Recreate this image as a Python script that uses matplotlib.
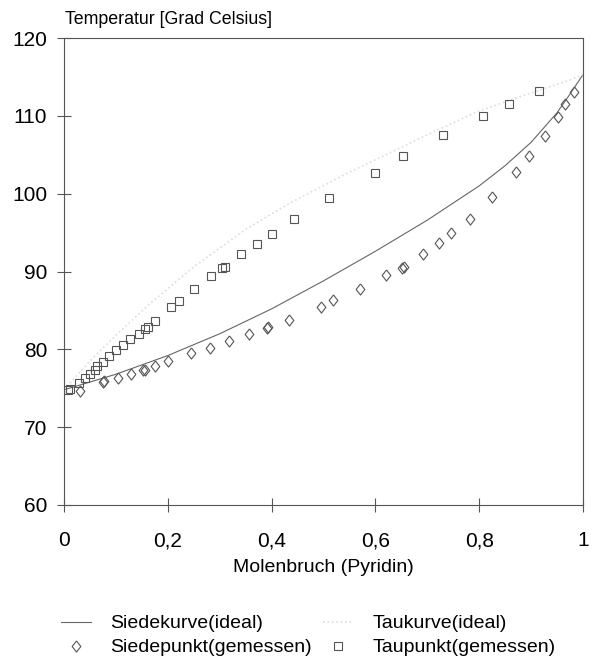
import matplotlib
matplotlib.use('Agg')
import matplotlib.pyplot as plt
from matplotlib.lines import Line2D

plt.rcParams['font.family'] = ['Liberation Sans', 'DejaVu Sans']

# 理想曲線
siede_x = [0.0, 0.1, 0.2, 0.3, 0.4, 0.5, 0.6, 0.7, 0.8, 0.85, 0.9, 0.95, 0.975, 1.0]
siede_t = [74.8, 76.8, 79.2, 82.0, 85.2, 88.8, 92.6, 96.6, 101.0, 103.6, 106.6, 110.4, 112.8, 115.3]

tau_x = [0.0, 0.05, 0.10, 0.166, 0.25, 0.352, 0.4355, 0.545, 0.692, 0.795, 0.885, 0.975, 1.0]
tau_t = [74.8, 78.5, 81.8, 85.9, 90.6, 95.5, 98.8, 102.6, 107.3, 110.5, 112.6, 114.6, 115.3]

# 測定値：沸点（ひし形）
siedepunkt_x = [0.031, 0.076, 0.078, 0.105, 0.130, 0.153, 0.156, 0.176, 0.201, 0.244, 0.281, 0.318,
                0.356, 0.391, 0.394, 0.434, 0.495, 0.519, 0.570, 0.620, 0.652, 0.655, 0.691, 0.723,
                0.746, 0.782, 0.825, 0.871, 0.895, 0.927, 0.951, 0.966, 0.982]
siedepunkt_t = [74.7, 75.8, 75.9, 76.3, 76.8, 77.3, 77.4, 77.9, 78.5, 79.5, 80.2, 81.1,
                82.0, 82.7, 82.9, 83.8, 85.5, 86.3, 87.8, 89.5, 90.4, 90.6, 92.2, 93.6,
                94.9, 96.8, 99.6, 102.8, 104.8, 107.4, 109.9, 111.5, 113.1]

# 測定値：露点（四角）
taupunkt_x = [0.008, 0.012, 0.029, 0.040, 0.050, 0.060, 0.063, 0.076, 0.087, 0.101, 0.114, 0.128,
              0.144, 0.157, 0.162, 0.176, 0.207, 0.222, 0.251, 0.283, 0.305, 0.310, 0.342, 0.372,
              0.400, 0.443, 0.511, 0.599, 0.653, 0.731, 0.808, 0.858, 0.916]
taupunkt_t = [74.8, 74.9, 75.7, 76.3, 76.8, 77.4, 77.8, 78.4, 79.1, 79.9, 80.6, 81.3,
              82.0, 82.6, 82.9, 83.7, 85.5, 86.2, 87.7, 89.4, 90.5, 90.6, 92.2, 93.5,
              94.8, 96.7, 99.5, 102.7, 104.8, 107.5, 110.0, 111.5, 113.2]

x_ticks = [0, 0.2, 0.4, 0.6, 0.8, 1.0]
x_ticklabels = ['0', '0,2', '0,4', '0,6', '0,8', '1']
y_ticks = [60, 70, 80, 90, 100, 110, 120]

grey = '#555555'
raute = [(0, 1), (0.78, 0), (0, -1), (-0.78, 0), (0, 1)]

fig = plt.figure(figsize=(5.98, 6.57), dpi=100)
ax = fig.add_axes([64/598, 1 - 505/657, 519/598, 467/657])

ax.plot(siede_x, siede_t, color='#666666', lw=0.8, label='Siedekurve(ideal)')
ax.plot(tau_x, tau_t, color='#dddddd', lw=1.2, ls=':', label='Taukurve(ideal)')
ax.plot(siedepunkt_x, siedepunkt_t, ls='none', marker=raute, markersize=8,
        markerfacecolor='none', markeredgecolor=grey, markeredgewidth=0.8, label='Siedepunkt(gemessen)')
ax.plot(taupunkt_x, taupunkt_t, ls='none', marker='s', markersize=6,
        markerfacecolor='none', markeredgecolor=grey, markeredgewidth=0.8, label='Taupunkt(gemessen)')

ax.set_xlim(0, 1)
ax.set_ylim(60, 120)
ax.set_xticks(x_ticks)
ax.set_xticklabels(x_ticklabels)
ax.set_yticks(y_ticks)

for s in ax.spines.values():
    s.set_color(grey)
    s.set_linewidth(0.8)
ax.tick_params(direction='inout', length=10, width=0.8, color=grey, labelsize=15)
ax.tick_params(axis='x', pad=14)
ax.tick_params(axis='y', pad=7)

ax.set_xlabel('Molenbruch (Pyridin)', fontsize=14, labelpad=6)
fig.text(65/598, 1 - 20/657, 'Temperatur [Grad Celsius]', fontsize=12.8, ha='left', va='center')

# 凡例（2列）
h1 = Line2D([], [], color='#666666', lw=0.8)
h2 = Line2D([], [], color='#dddddd', lw=1.2, ls=':')
h3 = Line2D([], [], ls='none', marker=raute, markersize=8, markerfacecolor='none',
            markeredgecolor=grey, markeredgewidth=0.8)
h4 = Line2D([], [], ls='none', marker='s', markersize=6, markerfacecolor='none',
            markeredgecolor=grey, markeredgewidth=0.8)
fig.legend([h1, h3, h2, h4],
           ['Siedekurve(ideal)', 'Siedepunkt(gemessen)', 'Taukurve(ideal)', 'Taupunkt(gemessen)'],
           ncol=2, loc='upper left', bbox_to_anchor=(53/598, 1 - 607/657), frameon=False,
           borderaxespad=0, fontsize=14, handlelength=1.55, handletextpad=0.98,
           columnspacing=0.6, labelspacing=0.33)

plt.savefig('out.png', dpi=100)
